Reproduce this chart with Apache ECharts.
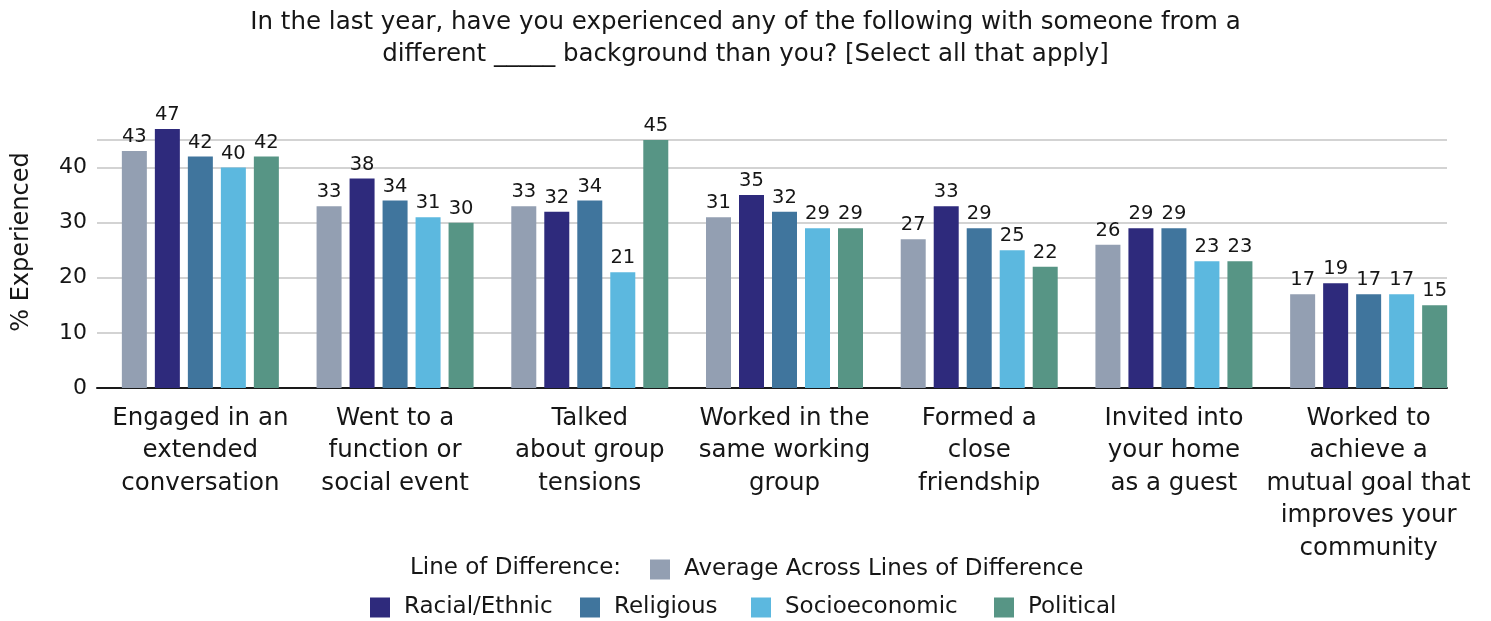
<!DOCTYPE html>
<html>
<head>
<meta charset="utf-8">
<script src="https://cdn.jsdelivr.net/npm/echarts@6/dist/echarts.min.js"></script>
<style>
  html, body { margin: 0; padding: 0; background: #fff; }
  #chart { width: 1491px; height: 621px; }
</style>
</head>
<body>
<div id="chart"></div>
<script>
// Activities asked about in the survey (x-axis categories)
const categories = [
  'Engaged in an\nextended\nconversation',
  'Went to a\nfunction or\nsocial event',
  'Talked\nabout group\ntensions',
  'Worked in the\nsame working\ngroup',
  'Formed a\nclose\nfriendship',
  'Invited into\nyour home\nas a guest',
  'Worked to\nachieve a\nmutual goal that\nimproves your\ncommunity'
];

// % who experienced each activity, by line of difference
const averageAcross = [43, 33, 33, 31, 27, 26, 17];
const racialEthnic  = [47, 38, 32, 35, 33, 29, 19];
const religious     = [42, 34, 34, 32, 29, 29, 17];
const socioeconomic = [40, 31, 21, 29, 25, 23, 17];
const political     = [42, 30, 45, 29, 22, 23, 15];

const seriesNames = [
  'Average Across Lines of Difference',
  'Racial/Ethnic',
  'Religious',
  'Socioeconomic',
  'Political'
];
const seriesData = [averageAcross, racialEthnic, religious, socioeconomic, political];
const colors = ['#939fb2', '#2e2a7c', '#40759d', '#5cb8df', '#579585'];

const FONT = '"DejaVu Sans", Inter, sans-serif';
const TEXT = '#161616';

const chart = echarts.init(document.getElementById('chart'));

const yMax = 45;

const series = seriesNames.map((name, i) => ({
  name,
  type: 'bar',
  xAxisIndex: 1,
  yAxisIndex: 1,
  data: seriesData[i],
  barWidth: 25,
  barGap: '32%',
  barCategoryGap: '19%',
  clip: false,
  itemStyle: { color: colors[i] },
  label: {
    show: true,
    position: 'top',
    distance: 4,
    fontFamily: FONT,
    fontSize: 19.5,
    color: TEXT
  }
}));

// one legend block per entry so each swatch sits at its own spot
const legendSpots = [
  { left: 650, top: 553 },
  { left: 370, top: 591 },
  { left: 580, top: 591 },
  { left: 751, top: 591 },
  { left: 994, top: 591 }
];
const legends = seriesNames.map((name, i) => ({
  data: [name],
  left: legendSpots[i].left - 5,
  top: legendSpots[i].top,
  itemWidth: 20,
  itemHeight: 20,
  icon: 'rect',
  selectedMode: false,
  textStyle: { fontFamily: FONT, fontSize: 23, color: TEXT, padding: [0, 0, 0, 9] }
}));

chart.setOption({
  animation: false,
  backgroundColor: '#fff',
  title: {
    text: 'In the last year, have you experienced any of the following with someone from a\ndifferent _____ background than you? [Select all that apply]',
    left: 'center',
    top: 2,
    textStyle: {
      fontFamily: FONT,
      fontWeight: 'normal',
      fontSize: 24.5,
      lineHeight: 32,
      color: TEXT,
      align: 'center'
    }
  },
  legend: legends,
  graphic: [
    {
      type: 'text',
      x: 410,
      y: 568,
      style: {
        text: 'Line of Difference:',
        fontFamily: FONT,
        fontSize: 23,
        fill: TEXT,
        verticalAlign: 'middle'
      }
    },
    {
      // value axis title
      type: 'text',
      x: 22,
      y: 242,
      rotation: Math.PI / 2,
      style: {
        text: '% Experienced',
        fontFamily: FONT,
        fontSize: 24,
        fill: TEXT,
        align: 'center',
        verticalAlign: 'middle'
      }
    }
  ],
  grid: [
    // frame for the value scale: gridlines, tick labels and baseline
    { left: 97, right: 44, top: 140, height: 248 },
    // bar area
    { left: 103, right: 25, top: 140, height: 248 }
  ],
  xAxis: [
    {
      gridIndex: 0,
      type: 'category',
      data: categories,
      axisLine: { show: true, lineStyle: { color: '#1a1a1a', width: 2 } },
      axisTick: { show: false },
      axisLabel: { show: false }
    },
    {
      gridIndex: 1,
      type: 'category',
      data: categories,
      axisLine: { show: false },
      axisTick: { show: false },
      axisLabel: {
        interval: 0,
        margin: 14,
        fontFamily: FONT,
        fontSize: 24.5,
        lineHeight: 32.5,
        color: TEXT,
        align: 'center'
      }
    }
  ],
  yAxis: [
    {
      gridIndex: 0,
      type: 'value',
      min: 0,
      max: yMax,
      interval: 10,
      axisLine: { show: false },
      axisTick: { show: false },
      axisLabel: {
        showMaxLabel: false,
        margin: 10,
        fontFamily: FONT,
        fontSize: 22,
        color: TEXT
      },
      splitLine: { show: true, lineStyle: { color: '#d3d3d3', width: 2 } }
    },
    {
      gridIndex: 1,
      type: 'value',
      min: 0,
      max: yMax,
      show: false,
      splitLine: { show: false }
    }
  ],
  series
});
</script>
</body>
</html>
